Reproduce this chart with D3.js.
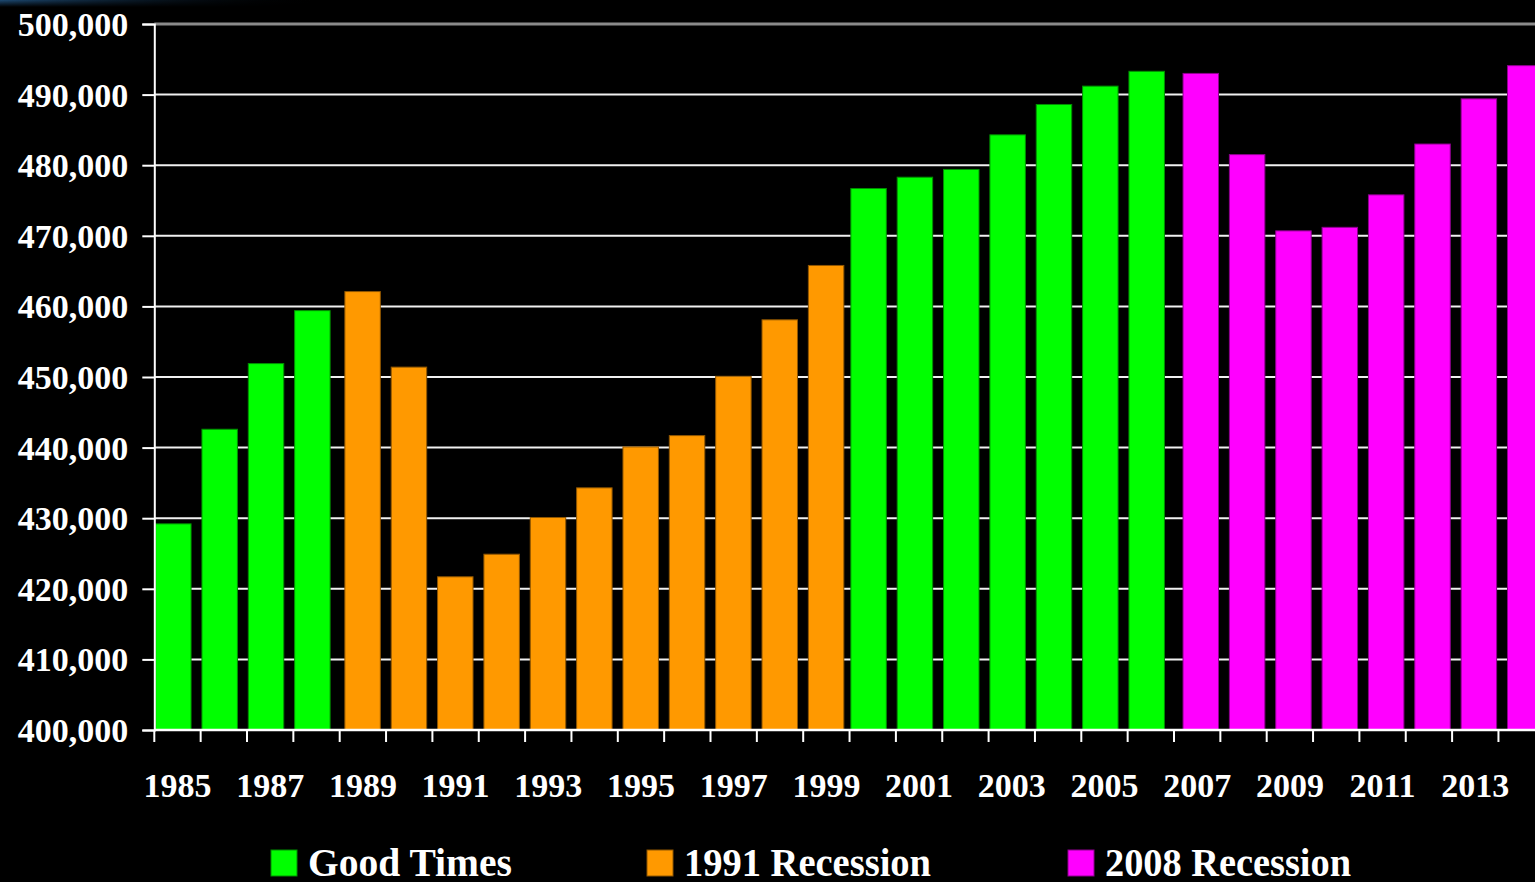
<!DOCTYPE html>
<html>
<head>
<meta charset="utf-8">
<script src="https://cdn.jsdelivr.net/npm/d3@7"></script>
<style>
  html, body { margin: 0; padding: 0; background: #000; overflow: hidden; }
  svg { display: block; }
  text { font-family: "Liberation Serif", "Times New Roman", serif; font-weight: bold; fill: #fff; }
</style>
</head>
<body>
<svg id="chart" width="1535" height="882"></svg>
<script>
const years = d3.range(1985, 2015);
const values = [429200, 442600, 451900, 459400, 462100, 451400, 421700, 424900, 430100, 434300,
                440100, 441700, 450100, 458100, 465800, 476700, 478300, 479400, 484300, 488600,
                491200, 493300, 493000, 481500, 470700, 471200, 475800, 483000, 489400, 494100];
const periods = ["Good Times","Good Times","Good Times","Good Times",
  "1991 Recession","1991 Recession","1991 Recession","1991 Recession","1991 Recession","1991 Recession",
  "1991 Recession","1991 Recession","1991 Recession","1991 Recession","1991 Recession",
  "Good Times","Good Times","Good Times","Good Times","Good Times","Good Times","Good Times",
  "2008 Recession","2008 Recession","2008 Recession","2008 Recession","2008 Recession","2008 Recession","2008 Recession","2008 Recession"];
const seriesNames = ["Good Times", "1991 Recession", "2008 Recession"];
const seriesColors = ["#00ff00", "#ff9900", "#ff00ff"];
const yTicks = d3.range(400000, 500001, 10000);
const xLabelYears = years.filter(y => (y - 1985) % 2 === 0);

const svg = d3.select("#chart");
const W = 1535, H = 882;
const m = { left: 154.3, top: 24, bottom: 730 };
const step = 46.35;

// slide background remnant in top-left corner
const defs = svg.append("defs");
const g1 = defs.append("linearGradient").attr("id", "corner").attr("x1", 0).attr("x2", 1).attr("y1", 0).attr("y2", 0);
g1.append("stop").attr("offset", "0%").attr("stop-color", "#1d4a73");
g1.append("stop").attr("offset", "100%").attr("stop-color", "#000").attr("stop-opacity", 0);
const g2 = defs.append("linearGradient").attr("id", "cornerV").attr("x1", 0).attr("x2", 0).attr("y1", 0).attr("y2", 1);
g2.append("stop").attr("offset", "0%").attr("stop-color", "#fff");
g2.append("stop").attr("offset", "100%").attr("stop-color", "#000");
const mask = defs.append("mask").attr("id", "cm");
mask.append("rect").attr("width", 320).attr("height", 7).attr("fill", "url(#cornerV)");
svg.append("rect").attr("width", 320).attr("height", 7).attr("fill", "url(#corner)").attr("mask", "url(#cm)");

const x = d3.scaleBand().domain(years).range([m.left, m.left + step * years.length]).paddingInner(0).paddingOuter(0);
const y = d3.scaleLinear().domain([400000, 500000]).range([m.bottom, m.top]);
const color = d3.scaleOrdinal().domain(seriesNames).range(seriesColors);
const bw = x.bandwidth();
const x1 = d3.scalePoint().domain(seriesNames).range([bw * 0.028, bw * 0.195]);
const barW = bw * 0.765;

// gridlines
svg.append("g").selectAll("line").data(yTicks.filter(t => t > 400000)).join("line")
  .attr("x1", m.left).attr("x2", W)
  .attr("y1", d => y(d)).attr("y2", d => y(d))
  .attr("stroke", d => d === 500000 ? "#8a8a8a" : "#f0f0f0")
  .attr("stroke-width", d => d === 500000 ? 3 : 2);

// bars
svg.append("g").selectAll("rect").data(years.map((yr, i) => ({ yr, v: values[i], p: periods[i] }))).join("rect")
  .attr("x", d => x(d.yr) + x1(d.p))
  .attr("y", d => y(d.v))
  .attr("width", barW)
  .attr("height", d => y(400000) - y(d.v))
  .attr("fill", d => color(d.p))
  .attr("stroke", d => d3.color(color(d.p)).darker(1.6))
  .attr("stroke-width", 1);

// y axis
const yAxis = d3.axisLeft(y).tickValues(yTicks).tickSize(12).tickPadding(14)
  .tickFormat(d3.format(","));
const gy = svg.append("g").attr("transform", `translate(${m.left},0)`).call(yAxis);
gy.select(".domain").attr("stroke", "#fff").attr("stroke-width", 2);
gy.selectAll(".tick line").attr("stroke", "#fff").attr("stroke-width", 2);
gy.selectAll(".tick text").attr("fill", "#fff").style("font-size", "34px")
  .style("font-family", "Liberation Serif, serif").style("font-weight", "bold").attr("dy", "0.34em");

// x axis: ticks at band boundaries
const gx = svg.append("g").attr("transform", `translate(0,${m.bottom})`);
gx.append("line").attr("x1", m.left).attr("x2", W).attr("y1", 0).attr("y2", 0)
  .attr("stroke", "#fff").attr("stroke-width", 2.5);
gx.selectAll("line.tk").data(years).join("line").attr("class", "tk")
  .attr("x1", d => x(d)).attr("x2", d => x(d)).attr("y1", 0).attr("y2", 12)
  .attr("stroke", "#fff").attr("stroke-width", 2);
gx.selectAll("text").data(xLabelYears).join("text")
  .attr("x", d => x(d) + bw / 2).attr("y", 67)
  .attr("text-anchor", "middle").style("font-size", "34px")
  .text(d => d);

// legend
const legendX = d3.scalePoint().domain(seriesNames).range([271, 1068]);
const legendTextWidth = [204, 247, 246];
const leg = svg.append("g");
seriesNames.forEach((s, i) => {
  const g = leg.append("g").attr("transform", `translate(${i === 1 ? 647 : legendX(s)},0)`);
  g.append("rect").attr("x", 0).attr("y", 850).attr("width", 26).attr("height", 26)
    .attr("fill", color(s)).attr("stroke", d3.color(color(s)).darker(1.6)).attr("stroke-width", 1);
  g.append("text").attr("x", 37).attr("y", 876).style("font-size", "40px")
    .attr("textLength", legendTextWidth[i]).attr("lengthAdjust", "spacingAndGlyphs")
    .text(s);
});
</script>
</body>
</html>
